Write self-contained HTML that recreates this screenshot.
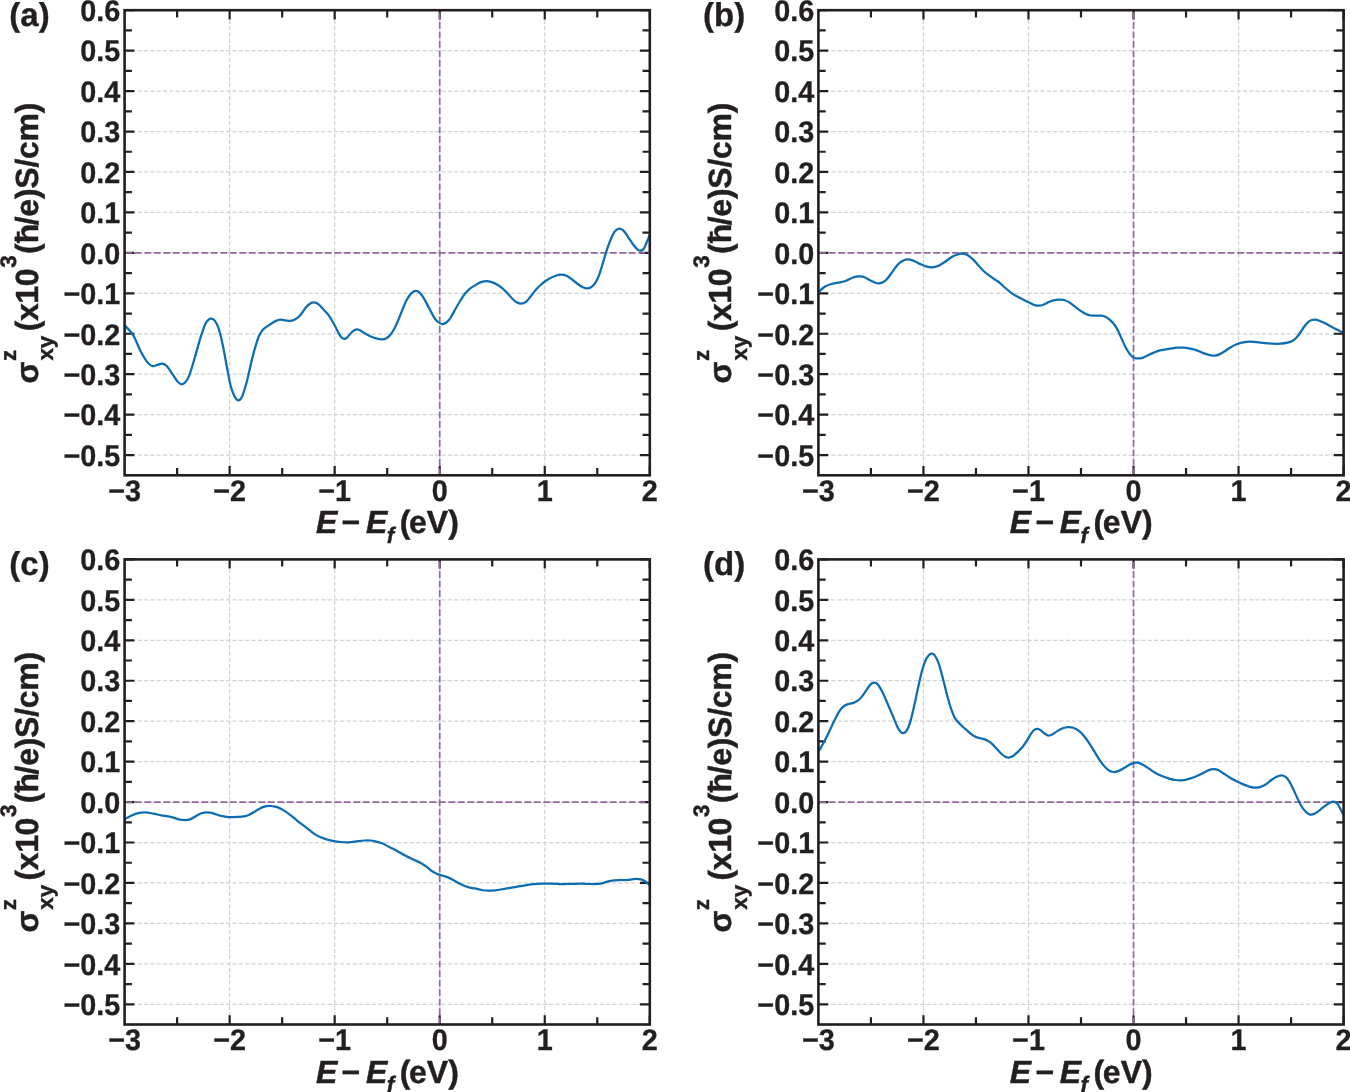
<!DOCTYPE html>
<html lang="en"><head><meta charset="utf-8"><title>Spin Hall conductivity panels</title><style>
html,body{margin:0;padding:0;background:#fff;}
body{width:1350px;height:1092px;overflow:hidden;}
svg{display:block;}
text{font-family:"Liberation Sans",Arial,Helvetica,sans-serif;font-weight:700;fill:#231f20;text-rendering:geometricPrecision;}
.tk text{font-size:28.8px;stroke:#231f20;stroke-width:0.3px;}
.lab{font-size:32px;stroke:#231f20;stroke-width:0.45px;}
.lab .it{font-style:italic;}
.lab .sub{font-size:22.4px;}
.pl{font-size:33px;stroke:#231f20;stroke-width:0.35px;}
</style></head><body>
<svg width="1350" height="1092" viewBox="0 0 1350 1092">
<rect width="1350" height="1092" fill="#fff"/>
<defs><clipPath id="cp0"><rect x="124.6" y="10.2" width="525.2" height="465.1"/></clipPath><clipPath id="cp1"><rect x="818.4" y="10.2" width="525.2" height="465.1"/></clipPath><clipPath id="cp2"><rect x="124.6" y="559.4" width="525.2" height="465.1"/></clipPath><clipPath id="cp3"><rect x="818.4" y="559.4" width="525.2" height="465.1"/></clipPath></defs>
<g>
<g fill="none" stroke="#d1d3d4" stroke-width="1.25" stroke-dasharray="4.2 2.13"><path d="M229.64 475.3V10.2M334.68 475.3V10.2M439.72 475.3V10.2M544.76 475.3V10.2" stroke-dashoffset="-1.9"/><path d="M124.6 455.08H649.8M124.6 414.63H649.8M124.6 374.19H649.8M124.6 333.75H649.8M124.6 293.3H649.8M124.6 252.86H649.8M124.6 212.42H649.8M124.6 171.97H649.8M124.6 131.53H649.8M124.6 91.09H649.8M124.6 50.64H649.8" stroke-dashoffset="-0.3"/></g>
<path d="M124.6 455.08h9.8M649.8 455.08h-9.8M124.6 414.63h9.8M649.8 414.63h-9.8M124.6 374.19h9.8M649.8 374.19h-9.8M124.6 333.75h9.8M649.8 333.75h-9.8M124.6 293.3h9.8M649.8 293.3h-9.8M124.6 252.86h9.8M649.8 252.86h-9.8M124.6 212.42h9.8M649.8 212.42h-9.8M124.6 171.97h9.8M649.8 171.97h-9.8M124.6 131.53h9.8M649.8 131.53h-9.8M124.6 91.09h9.8M649.8 91.09h-9.8M124.6 50.64h9.8M649.8 50.64h-9.8M124.6 10.2h9.8M649.8 10.2h-9.8M124.6 434.86h7.3M649.8 434.86h-7.3M124.6 394.41h7.3M649.8 394.41h-7.3M124.6 353.97h7.3M649.8 353.97h-7.3M124.6 313.53h7.3M649.8 313.53h-7.3M124.6 273.08h7.3M649.8 273.08h-7.3M124.6 232.64h7.3M649.8 232.64h-7.3M124.6 192.2h7.3M649.8 192.2h-7.3M124.6 151.75h7.3M649.8 151.75h-7.3M124.6 111.31h7.3M649.8 111.31h-7.3M124.6 70.87h7.3M649.8 70.87h-7.3M124.6 30.42h7.3M649.8 30.42h-7.3M177.12 475.3v-7.2M177.12 10.2v7.2M229.64 475.3v-9.2M229.64 10.2v9.2M282.16 475.3v-7.2M282.16 10.2v7.2M334.68 475.3v-9.2M334.68 10.2v9.2M387.2 475.3v-7.2M387.2 10.2v7.2M439.72 475.3v-9.2M439.72 10.2v9.2M492.24 475.3v-7.2M492.24 10.2v7.2M544.76 475.3v-9.2M544.76 10.2v9.2M597.28 475.3v-7.2M597.28 10.2v7.2M649.8 475.3v-9.2M649.8 10.2v9.2" fill="none" stroke="#231f20" stroke-width="2.2"/>
<g fill="none" stroke="#96699d" stroke-width="1.7" stroke-dasharray="6.8 2.7"><path d="M124.6 252.86H649.8" stroke-dashoffset="-0.8"/><path d="M439.72 475.3V10.2"/></g>
<path d="M124.7 325.3C126.13 326.97 130.75 331.18 133.3 335.3C135.85 339.42 137.77 345.67 140 350C142.23 354.33 144.7 358.63 146.7 361.3C148.7 363.97 150.23 365.4 152 366C153.77 366.6 155.63 365.28 157.3 364.9C158.97 364.52 160.43 363.52 162 363.7C163.57 363.88 164.82 364.07 166.7 366C168.58 367.93 171.53 372.75 173.3 375.3C175.07 377.85 175.97 379.8 177.3 381.3C178.63 382.8 179.97 384.13 181.3 384.3C182.63 384.47 183.97 383.8 185.3 382.3C186.63 380.8 187.73 379.35 189.3 375.3C190.87 371.25 192.92 364 194.7 358C196.48 352 198.23 344.97 200 339.3C201.77 333.63 203.85 327.28 205.3 324C206.75 320.72 207.7 320.48 208.7 319.6C209.7 318.72 210.3 318.52 211.3 318.7C212.3 318.88 213.47 319.03 214.7 320.7C215.93 322.37 217.37 324.7 218.7 328.7C220.03 332.7 221.37 338.48 222.7 344.7C224.03 350.92 225.37 359.12 226.7 366C228.03 372.88 229.37 380.88 230.7 386C232.03 391.12 233.42 394.32 234.7 396.7C235.98 399.08 237.18 400.3 238.4 400.3C239.62 400.3 240.62 399.75 242 396.7C243.38 393.65 245.03 388.23 246.7 382C248.37 375.77 250.45 365.52 252 359.3C253.55 353.08 254.78 348.7 256 344.7C257.22 340.7 258.08 337.87 259.3 335.3C260.52 332.73 261.4 331.18 263.3 329.3C265.2 327.42 268.58 325.4 270.7 324C272.82 322.6 274.33 321.62 276 320.9C277.67 320.18 279.15 319.8 280.7 319.7C282.25 319.6 283.75 320.1 285.3 320.3C286.85 320.5 288.33 321.07 290 320.9C291.67 320.73 293.52 320.33 295.3 319.3C297.08 318.27 298.92 316.7 300.7 314.7C302.48 312.7 304.45 309.13 306 307.3C307.55 305.47 308.67 304.52 310 303.7C311.33 302.88 312.55 302.3 314 302.4C315.45 302.5 317.15 303.15 318.7 304.3C320.25 305.45 321.63 307.47 323.3 309.3C324.97 311.13 326.92 312.85 328.7 315.3C330.48 317.75 332.45 321.22 334 324C335.55 326.78 336.78 329.78 338 332C339.22 334.22 340.23 336.15 341.3 337.3C342.37 338.45 343.4 338.9 344.4 338.9C345.4 338.9 346.15 338.33 347.3 337.3C348.45 336.27 350.07 333.92 351.3 332.7C352.53 331.48 353.7 330.57 354.7 330C355.7 329.43 356.3 329.18 357.3 329.3C358.3 329.42 359.25 329.92 360.7 330.7C362.15 331.48 364 332.9 366 334C368 335.1 370.7 336.48 372.7 337.3C374.7 338.12 376.45 338.57 378 338.9C379.55 339.23 380.67 339.38 382 339.3C383.33 339.22 384.67 339.07 386 338.4C387.33 337.73 388.67 336.82 390 335.3C391.33 333.78 392.67 331.73 394 329.3C395.33 326.87 396.67 323.8 398 320.7C399.33 317.6 400.67 313.93 402 310.7C403.33 307.47 404.67 303.97 406 301.3C407.33 298.63 408.78 296.3 410 294.7C411.22 293.1 412.3 292.33 413.3 291.7C414.3 291.07 415 290.8 416 290.9C417 291 418.08 291.23 419.3 292.3C420.52 293.37 421.73 294.8 423.3 297.3C424.87 299.8 426.92 303.97 428.7 307.3C430.48 310.63 432.45 314.85 434 317.3C435.55 319.75 436.67 320.88 438 322C439.33 323.12 440.67 323.88 442 324C443.33 324.12 444.67 323.58 446 322.7C447.33 321.82 448.45 320.93 450 318.7C451.55 316.47 453.52 312.42 455.3 309.3C457.08 306.18 459.13 302.55 460.7 300C462.27 297.45 463.15 295.88 464.7 294C466.25 292.12 468.28 290.15 470 288.7C471.72 287.25 473.28 286.35 475 285.3C476.72 284.25 478.3 283.1 480.3 282.4C482.3 281.7 484.77 281.02 487 281.1C489.23 281.18 491.48 281.97 493.7 282.9C495.92 283.83 498.08 285.07 500.3 286.7C502.52 288.33 505 290.7 507 292.7C509 294.7 510.63 297.08 512.3 298.7C513.97 300.32 515.43 301.58 517 302.4C518.57 303.22 520.15 303.73 521.7 303.6C523.25 303.47 524.75 302.87 526.3 301.6C527.85 300.33 529.33 298.05 531 296C532.67 293.95 534.52 291.3 536.3 289.3C538.08 287.3 539.7 285.67 541.7 284C543.7 282.33 546.08 280.63 548.3 279.3C550.52 277.97 552.88 276.77 555 276C557.12 275.23 559 274.7 561 274.7C563 274.7 565.12 275.17 567 276C568.88 276.83 570.52 278.37 572.3 279.7C574.08 281.03 575.92 282.73 577.7 284C579.48 285.27 581.45 286.57 583 287.3C584.55 288.03 585.67 288.4 587 288.4C588.33 288.4 589.67 288.15 591 287.3C592.33 286.45 593.67 285.3 595 283.3C596.33 281.3 597.67 278.73 599 275.3C600.33 271.87 601.67 267.03 603 262.7C604.33 258.37 605.67 253.3 607 249.3C608.33 245.3 609.67 241.7 611 238.7C612.33 235.7 613.55 232.97 615 231.3C616.45 229.63 618.25 228.77 619.7 228.7C621.15 228.63 622.27 229.47 623.7 230.9C625.13 232.33 626.63 234.9 628.3 237.3C629.97 239.7 632.13 243.25 633.7 245.3C635.27 247.35 636.53 248.7 637.7 249.6C638.87 250.5 639.7 250.85 640.7 250.7C641.7 250.55 642.77 249.93 643.7 248.7C644.63 247.47 645.32 245.53 646.3 243.3C647.28 241.07 649.05 236.63 649.6 235.3" fill="none" stroke="#0c6db3" stroke-width="2.25" stroke-linejoin="round" stroke-linecap="butt" clip-path="url(#cp0)"/>
<rect x="124.6" y="10.2" width="525.2" height="465.1" fill="none" stroke="#231f20" stroke-width="2.6"/>
<g class="tk" text-anchor="end">
<text transform="translate(120.4 20.95) scale(1 1.035)">0.6</text>
<text transform="translate(120.4 61.39) scale(1 1.035)">0.5</text>
<text transform="translate(120.4 101.84) scale(1 1.035)">0.4</text>
<text transform="translate(120.4 142.28) scale(1 1.035)">0.3</text>
<text transform="translate(120.4 182.72) scale(1 1.035)">0.2</text>
<text transform="translate(120.4 223.17) scale(1 1.035)">0.1</text>
<text transform="translate(120.4 263.61) scale(1 1.035)">0.0</text>
<text transform="translate(120.4 304.05) scale(1 1.035)">−0.1</text>
<text transform="translate(120.4 344.5) scale(1 1.035)">−0.2</text>
<text transform="translate(120.4 384.94) scale(1 1.035)">−0.3</text>
<text transform="translate(120.4 425.38) scale(1 1.035)">−0.4</text>
<text transform="translate(120.4 465.83) scale(1 1.035)">−0.5</text>
</g>
<g class="tk" text-anchor="middle">
<text transform="translate(124.6 500.8) scale(1 1.035)">−3</text>
<text transform="translate(229.64 500.8) scale(1 1.035)">−2</text>
<text transform="translate(334.68 500.8) scale(1 1.035)">−1</text>
<text transform="translate(439.72 500.8) scale(1 1.035)">0</text>
<text transform="translate(544.76 500.8) scale(1 1.035)">1</text>
<text transform="translate(649.8 500.8) scale(1 1.035)">2</text>
</g>
<text class="lab" y="533.4"><tspan class="it" x="315.9">E</tspan><tspan x="341.6">−</tspan><tspan class="it" x="365.9">E</tspan><tspan class="it sub" x="386.8" dy="9.3">f</tspan><tspan x="399.7" dy="-9.3">(</tspan><tspan x="409.05">eV)</tspan></text>
<g transform="translate(37.5 0) rotate(-90)"><text class="lab" y="0"><tspan x="-383.4">σ</tspan><tspan class="sub" x="-361" dy="-21.9">z</tspan><tspan class="sub" x="-360.6" dy="37.2">xy</tspan><tspan x="-331.3" dy="-15.3" letter-spacing="-0.4">(x10</tspan><tspan class="sub" x="-267.8" dy="-21.9">3</tspan><tspan x="-254" dy="21.9">(ħ</tspan><tspan x="-225.3" letter-spacing="-0.25">/e)S/cm)</tspan></text></g>
<text class="pl" x="9.3" y="25.5">(a)</text>
</g>
<g>
<g fill="none" stroke="#d1d3d4" stroke-width="1.25" stroke-dasharray="4.2 2.13"><path d="M923.44 475.3V10.2M1028.48 475.3V10.2M1133.52 475.3V10.2M1238.56 475.3V10.2" stroke-dashoffset="-1.9"/><path d="M818.4 455.08H1343.6M818.4 414.63H1343.6M818.4 374.19H1343.6M818.4 333.75H1343.6M818.4 293.3H1343.6M818.4 252.86H1343.6M818.4 212.42H1343.6M818.4 171.97H1343.6M818.4 131.53H1343.6M818.4 91.09H1343.6M818.4 50.64H1343.6" stroke-dashoffset="-0.3"/></g>
<path d="M818.4 455.08h9.8M1343.6 455.08h-9.8M818.4 414.63h9.8M1343.6 414.63h-9.8M818.4 374.19h9.8M1343.6 374.19h-9.8M818.4 333.75h9.8M1343.6 333.75h-9.8M818.4 293.3h9.8M1343.6 293.3h-9.8M818.4 252.86h9.8M1343.6 252.86h-9.8M818.4 212.42h9.8M1343.6 212.42h-9.8M818.4 171.97h9.8M1343.6 171.97h-9.8M818.4 131.53h9.8M1343.6 131.53h-9.8M818.4 91.09h9.8M1343.6 91.09h-9.8M818.4 50.64h9.8M1343.6 50.64h-9.8M818.4 10.2h9.8M1343.6 10.2h-9.8M818.4 434.86h7.3M1343.6 434.86h-7.3M818.4 394.41h7.3M1343.6 394.41h-7.3M818.4 353.97h7.3M1343.6 353.97h-7.3M818.4 313.53h7.3M1343.6 313.53h-7.3M818.4 273.08h7.3M1343.6 273.08h-7.3M818.4 232.64h7.3M1343.6 232.64h-7.3M818.4 192.2h7.3M1343.6 192.2h-7.3M818.4 151.75h7.3M1343.6 151.75h-7.3M818.4 111.31h7.3M1343.6 111.31h-7.3M818.4 70.87h7.3M1343.6 70.87h-7.3M818.4 30.42h7.3M1343.6 30.42h-7.3M870.92 475.3v-7.2M870.92 10.2v7.2M923.44 475.3v-9.2M923.44 10.2v9.2M975.96 475.3v-7.2M975.96 10.2v7.2M1028.48 475.3v-9.2M1028.48 10.2v9.2M1081 475.3v-7.2M1081 10.2v7.2M1133.52 475.3v-9.2M1133.52 10.2v9.2M1186.04 475.3v-7.2M1186.04 10.2v7.2M1238.56 475.3v-9.2M1238.56 10.2v9.2M1291.08 475.3v-7.2M1291.08 10.2v7.2M1343.6 475.3v-9.2M1343.6 10.2v9.2" fill="none" stroke="#231f20" stroke-width="2.2"/>
<g fill="none" stroke="#96699d" stroke-width="1.7" stroke-dasharray="6.8 2.7"><path d="M818.4 252.86H1343.6" stroke-dashoffset="-0.8"/><path d="M1133.52 475.3V10.2"/></g>
<path d="M818.7 292C819.7 291.12 822.6 288.03 824.7 286.7C826.8 285.37 829.08 284.67 831.3 284C833.52 283.33 835.77 283.15 838 282.7C840.23 282.25 842.48 282.03 844.7 281.3C846.92 280.57 849.42 279.07 851.3 278.3C853.18 277.53 854.55 277.03 856 276.7C857.45 276.37 858.55 276.2 860 276.3C861.45 276.4 863.03 276.63 864.7 277.3C866.37 277.97 868.23 279.4 870 280.3C871.77 281.2 873.75 282.2 875.3 282.7C876.85 283.2 877.97 283.42 879.3 283.3C880.63 283.18 881.97 282.77 883.3 282C884.63 281.23 885.73 280.48 887.3 278.7C888.87 276.92 890.92 273.68 892.7 271.3C894.48 268.92 896.23 266.22 898 264.4C899.77 262.58 901.63 261.25 903.3 260.4C904.97 259.55 906.43 259.3 908 259.3C909.57 259.3 910.82 259.68 912.7 260.4C914.58 261.12 917.08 262.62 919.3 263.6C921.52 264.58 923.88 265.68 926 266.3C928.12 266.92 930 267.35 932 267.3C934 267.25 935.88 266.88 938 266C940.12 265.12 942.48 263.45 944.7 262C946.92 260.55 949.3 258.52 951.3 257.3C953.3 256.08 954.92 255.3 956.7 254.7C958.48 254.1 960.23 253.63 962 253.7C963.77 253.77 965.52 254.2 967.3 255.1C969.08 256 970.92 257.47 972.7 259.1C974.48 260.73 976.23 262.97 978 264.9C979.77 266.83 981.18 268.73 983.3 270.7C985.42 272.67 988.13 274.82 990.7 276.7C993.27 278.58 996.27 280.12 998.7 282C1001.13 283.88 1003.08 286.12 1005.3 288C1007.52 289.88 1009.77 291.75 1012 293.3C1014.23 294.85 1016.48 296.07 1018.7 297.3C1020.92 298.53 1023.3 299.7 1025.3 300.7C1027.3 301.7 1029.13 302.57 1030.7 303.3C1032.27 304.03 1033.37 304.7 1034.7 305.1C1036.03 305.5 1037.27 305.77 1038.7 305.7C1040.13 305.63 1041.75 305.25 1043.3 304.7C1044.85 304.15 1046.33 303.12 1048 302.4C1049.67 301.68 1051.52 300.87 1053.3 300.4C1055.08 299.93 1056.92 299.67 1058.7 299.6C1060.48 299.53 1062.23 299.53 1064 300C1065.77 300.47 1067.52 301.33 1069.3 302.4C1071.08 303.47 1072.92 305.07 1074.7 306.4C1076.48 307.73 1078.23 309.18 1080 310.4C1081.77 311.62 1083.52 312.85 1085.3 313.7C1087.08 314.55 1088.92 315.17 1090.7 315.5C1092.48 315.83 1094.23 315.67 1096 315.7C1097.77 315.73 1099.75 315.53 1101.3 315.7C1102.85 315.87 1103.97 316.1 1105.3 316.7C1106.63 317.3 1107.97 318.2 1109.3 319.3C1110.63 320.4 1111.97 321.63 1113.3 323.3C1114.63 324.97 1115.97 326.85 1117.3 329.3C1118.63 331.75 1119.97 335.1 1121.3 338C1122.63 340.9 1123.97 344.15 1125.3 346.7C1126.63 349.25 1128.07 351.6 1129.3 353.3C1130.53 355 1131.58 356.07 1132.7 356.9C1133.82 357.73 1134.9 358.05 1136 358.3C1137.1 358.55 1138.08 358.52 1139.3 358.4C1140.52 358.28 1141.85 358.12 1143.3 357.6C1144.75 357.08 1146.33 356.08 1148 355.3C1149.67 354.52 1151.3 353.72 1153.3 352.9C1155.3 352.08 1157.22 351.1 1160 350.4C1162.78 349.7 1167.22 349.15 1170 348.7C1172.78 348.25 1174.48 347.87 1176.7 347.7C1178.92 347.53 1181.08 347.53 1183.3 347.7C1185.52 347.87 1187.77 348.25 1190 348.7C1192.23 349.15 1194.48 349.67 1196.7 350.4C1198.92 351.13 1201.08 352.3 1203.3 353.1C1205.52 353.9 1208.1 354.77 1210 355.2C1211.9 355.63 1213.15 355.83 1214.7 355.7C1216.25 355.57 1217.63 355.13 1219.3 354.4C1220.97 353.67 1222.92 352.42 1224.7 351.3C1226.48 350.18 1228 348.87 1230 347.7C1232 346.53 1234.48 345.18 1236.7 344.3C1238.92 343.42 1241.08 342.83 1243.3 342.4C1245.52 341.97 1247.77 341.75 1250 341.7C1252.23 341.65 1254.25 341.85 1256.7 342.1C1259.15 342.35 1262.03 342.93 1264.7 343.2C1267.37 343.47 1270.03 343.62 1272.7 343.7C1275.37 343.78 1278.27 343.87 1280.7 343.7C1283.13 343.53 1285.3 343.2 1287.3 342.7C1289.3 342.2 1291.13 341.6 1292.7 340.7C1294.27 339.8 1295.37 338.75 1296.7 337.3C1298.03 335.85 1299.37 333.88 1300.7 332C1302.03 330.12 1303.37 327.73 1304.7 326C1306.03 324.27 1307.48 322.6 1308.7 321.6C1309.92 320.6 1310.9 320.33 1312 320C1313.1 319.67 1314.08 319.48 1315.3 319.6C1316.52 319.72 1317.73 320.12 1319.3 320.7C1320.87 321.28 1322.92 322.22 1324.7 323.1C1326.48 323.98 1328 324.92 1330 326C1332 327.08 1334.47 328.43 1336.7 329.6C1338.93 330.77 1342.28 332.43 1343.4 333" fill="none" stroke="#0c6db3" stroke-width="2.25" stroke-linejoin="round" stroke-linecap="butt" clip-path="url(#cp1)"/>
<rect x="818.4" y="10.2" width="525.2" height="465.1" fill="none" stroke="#231f20" stroke-width="2.6"/>
<g class="tk" text-anchor="end">
<text transform="translate(814.2 20.95) scale(1 1.035)">0.6</text>
<text transform="translate(814.2 61.39) scale(1 1.035)">0.5</text>
<text transform="translate(814.2 101.84) scale(1 1.035)">0.4</text>
<text transform="translate(814.2 142.28) scale(1 1.035)">0.3</text>
<text transform="translate(814.2 182.72) scale(1 1.035)">0.2</text>
<text transform="translate(814.2 223.17) scale(1 1.035)">0.1</text>
<text transform="translate(814.2 263.61) scale(1 1.035)">0.0</text>
<text transform="translate(814.2 304.05) scale(1 1.035)">−0.1</text>
<text transform="translate(814.2 344.5) scale(1 1.035)">−0.2</text>
<text transform="translate(814.2 384.94) scale(1 1.035)">−0.3</text>
<text transform="translate(814.2 425.38) scale(1 1.035)">−0.4</text>
<text transform="translate(814.2 465.83) scale(1 1.035)">−0.5</text>
</g>
<g class="tk" text-anchor="middle">
<text transform="translate(818.4 500.8) scale(1 1.035)">−3</text>
<text transform="translate(923.44 500.8) scale(1 1.035)">−2</text>
<text transform="translate(1028.48 500.8) scale(1 1.035)">−1</text>
<text transform="translate(1133.52 500.8) scale(1 1.035)">0</text>
<text transform="translate(1238.56 500.8) scale(1 1.035)">1</text>
<text transform="translate(1343.6 500.8) scale(1 1.035)">2</text>
</g>
<text class="lab" y="533.4"><tspan class="it" x="1009.7">E</tspan><tspan x="1035.4">−</tspan><tspan class="it" x="1059.7">E</tspan><tspan class="it sub" x="1080.6" dy="9.3">f</tspan><tspan x="1093.5" dy="-9.3">(</tspan><tspan x="1102.85">eV)</tspan></text>
<g transform="translate(731.3 0) rotate(-90)"><text class="lab" y="0"><tspan x="-383.4">σ</tspan><tspan class="sub" x="-361" dy="-21.9">z</tspan><tspan class="sub" x="-360.6" dy="37.2">xy</tspan><tspan x="-331.3" dy="-15.3" letter-spacing="-0.4">(x10</tspan><tspan class="sub" x="-267.8" dy="-21.9">3</tspan><tspan x="-254" dy="21.9">(ħ</tspan><tspan x="-225.3" letter-spacing="-0.25">/e)S/cm)</tspan></text></g>
<text class="pl" x="703.1" y="25.5">(b)</text>
</g>
<g>
<g fill="none" stroke="#d1d3d4" stroke-width="1.25" stroke-dasharray="4.2 2.13"><path d="M229.64 1024.5V559.4M334.68 1024.5V559.4M439.72 1024.5V559.4M544.76 1024.5V559.4" stroke-dashoffset="-1.9"/><path d="M124.6 1004.28H649.8M124.6 963.83H649.8M124.6 923.39H649.8M124.6 882.95H649.8M124.6 842.5H649.8M124.6 802.06H649.8M124.6 761.62H649.8M124.6 721.17H649.8M124.6 680.73H649.8M124.6 640.29H649.8M124.6 599.84H649.8" stroke-dashoffset="-0.3"/></g>
<path d="M124.6 1004.28h9.8M649.8 1004.28h-9.8M124.6 963.83h9.8M649.8 963.83h-9.8M124.6 923.39h9.8M649.8 923.39h-9.8M124.6 882.95h9.8M649.8 882.95h-9.8M124.6 842.5h9.8M649.8 842.5h-9.8M124.6 802.06h9.8M649.8 802.06h-9.8M124.6 761.62h9.8M649.8 761.62h-9.8M124.6 721.17h9.8M649.8 721.17h-9.8M124.6 680.73h9.8M649.8 680.73h-9.8M124.6 640.29h9.8M649.8 640.29h-9.8M124.6 599.84h9.8M649.8 599.84h-9.8M124.6 559.4h9.8M649.8 559.4h-9.8M124.6 984.06h7.3M649.8 984.06h-7.3M124.6 943.61h7.3M649.8 943.61h-7.3M124.6 903.17h7.3M649.8 903.17h-7.3M124.6 862.73h7.3M649.8 862.73h-7.3M124.6 822.28h7.3M649.8 822.28h-7.3M124.6 781.84h7.3M649.8 781.84h-7.3M124.6 741.4h7.3M649.8 741.4h-7.3M124.6 700.95h7.3M649.8 700.95h-7.3M124.6 660.51h7.3M649.8 660.51h-7.3M124.6 620.07h7.3M649.8 620.07h-7.3M124.6 579.62h7.3M649.8 579.62h-7.3M177.12 1024.5v-7.2M177.12 559.4v7.2M229.64 1024.5v-9.2M229.64 559.4v9.2M282.16 1024.5v-7.2M282.16 559.4v7.2M334.68 1024.5v-9.2M334.68 559.4v9.2M387.2 1024.5v-7.2M387.2 559.4v7.2M439.72 1024.5v-9.2M439.72 559.4v9.2M492.24 1024.5v-7.2M492.24 559.4v7.2M544.76 1024.5v-9.2M544.76 559.4v9.2M597.28 1024.5v-7.2M597.28 559.4v7.2M649.8 1024.5v-9.2M649.8 559.4v9.2" fill="none" stroke="#231f20" stroke-width="2.2"/>
<g fill="none" stroke="#96699d" stroke-width="1.7" stroke-dasharray="6.8 2.7"><path d="M124.6 802.06H649.8" stroke-dashoffset="-0.8"/><path d="M439.72 1024.5V559.4"/></g>
<path d="M124.7 819.3C125.7 818.75 128.6 817 130.7 816C132.8 815 134.87 813.9 137.3 813.3C139.73 812.7 142.63 812.33 145.3 812.4C147.97 812.47 150.63 813.22 153.3 813.7C155.97 814.18 158.4 814.77 161.3 815.3C164.2 815.83 167.8 816.23 170.7 816.9C173.6 817.57 176.27 818.77 178.7 819.3C181.13 819.83 183.3 820.13 185.3 820.1C187.3 820.07 188.92 819.78 190.7 819.1C192.48 818.42 194.23 816.97 196 816C197.77 815.03 199.42 813.9 201.3 813.3C203.18 812.7 205.3 812.4 207.3 812.4C209.3 812.4 211.18 812.75 213.3 813.3C215.42 813.85 217.77 815.1 220 815.7C222.23 816.3 224.92 816.65 226.7 816.9C228.48 817.15 228.93 817.2 230.7 817.2C232.47 817.2 235.08 817.05 237.3 816.9C239.52 816.75 242 816.67 244 816.3C246 815.93 247.52 815.48 249.3 814.7C251.08 813.92 252.92 812.65 254.7 811.6C256.48 810.55 258.23 809.27 260 808.4C261.77 807.53 263.63 806.8 265.3 806.4C266.97 806 268.33 805.95 270 806C271.67 806.05 273.42 806.22 275.3 806.7C277.18 807.18 279.4 807.95 281.3 808.9C283.2 809.85 284.7 811 286.7 812.4C288.7 813.8 291.42 815.82 293.3 817.3C295.18 818.78 295.88 819.63 298 821.3C300.12 822.97 303.33 825.25 306 827.3C308.67 829.35 311.55 831.93 314 833.6C316.45 835.27 318.48 836.3 320.7 837.3C322.92 838.3 325.08 838.97 327.3 839.6C329.52 840.23 331.77 840.7 334 841.1C336.23 841.5 338.7 841.78 340.7 842C342.7 842.22 344.23 842.38 346 842.4C347.77 842.42 349.3 842.3 351.3 842.1C353.3 841.9 355.77 841.47 358 841.2C360.23 840.93 362.7 840.62 364.7 840.5C366.7 840.38 368.23 840.37 370 840.5C371.77 840.63 373.3 840.83 375.3 841.3C377.3 841.77 379.77 842.4 382 843.3C384.23 844.2 386.25 845.47 388.7 846.7C391.15 847.93 394.03 849.27 396.7 850.7C399.37 852.13 402.03 853.87 404.7 855.3C407.37 856.73 410.03 858.03 412.7 859.3C415.37 860.57 418.48 861.73 420.7 862.9C422.92 864.07 424.23 865 426 866.3C427.77 867.6 429.52 869.47 431.3 870.7C433.08 871.93 434.92 872.9 436.7 873.7C438.48 874.5 440.23 874.93 442 875.5C443.77 876.07 445.52 876.4 447.3 877.1C449.08 877.8 450.7 878.62 452.7 879.7C454.7 880.78 457.3 882.55 459.3 883.6C461.3 884.65 462.92 885.32 464.7 886C466.48 886.68 468.28 887.3 470 887.7C471.72 888.1 473.05 888.02 475 888.4C476.95 888.78 479.48 889.62 481.7 890C483.92 890.38 486.08 890.65 488.3 890.7C490.52 890.75 492.33 890.6 495 890.3C497.67 890 500.97 889.43 504.3 888.9C507.63 888.37 511.43 887.7 515 887.1C518.57 886.5 522.58 885.8 525.7 885.3C528.82 884.8 531.03 884.38 533.7 884.1C536.37 883.82 538.6 883.68 541.7 883.6C544.8 883.52 548.97 883.52 552.3 883.6C555.63 883.68 558.58 884.05 561.7 884.1C564.82 884.15 567.67 883.98 571 883.9C574.33 883.82 578.58 883.58 581.7 883.6C584.82 883.62 587.03 883.95 589.7 884C592.37 884.05 595.48 884.05 597.7 883.9C599.92 883.75 601.23 883.53 603 883.1C604.77 882.67 606.52 881.77 608.3 881.3C610.08 880.83 611.7 880.52 613.7 880.3C615.7 880.08 618.08 880.05 620.3 880C622.52 879.95 625 880.12 627 880C629 879.88 630.63 879.48 632.3 879.3C633.97 879.12 635.55 878.9 637 878.9C638.45 878.9 639.67 878.9 641 879.3C642.33 879.7 643.57 880.35 645 881.3C646.43 882.25 648.83 884.38 649.6 885" fill="none" stroke="#0c6db3" stroke-width="2.25" stroke-linejoin="round" stroke-linecap="butt" clip-path="url(#cp2)"/>
<rect x="124.6" y="559.4" width="525.2" height="465.1" fill="none" stroke="#231f20" stroke-width="2.6"/>
<g class="tk" text-anchor="end">
<text transform="translate(120.4 570.15) scale(1 1.035)">0.6</text>
<text transform="translate(120.4 610.59) scale(1 1.035)">0.5</text>
<text transform="translate(120.4 651.04) scale(1 1.035)">0.4</text>
<text transform="translate(120.4 691.48) scale(1 1.035)">0.3</text>
<text transform="translate(120.4 731.92) scale(1 1.035)">0.2</text>
<text transform="translate(120.4 772.37) scale(1 1.035)">0.1</text>
<text transform="translate(120.4 812.81) scale(1 1.035)">0.0</text>
<text transform="translate(120.4 853.25) scale(1 1.035)">−0.1</text>
<text transform="translate(120.4 893.7) scale(1 1.035)">−0.2</text>
<text transform="translate(120.4 934.14) scale(1 1.035)">−0.3</text>
<text transform="translate(120.4 974.58) scale(1 1.035)">−0.4</text>
<text transform="translate(120.4 1015.03) scale(1 1.035)">−0.5</text>
</g>
<g class="tk" text-anchor="middle">
<text transform="translate(124.6 1050) scale(1 1.035)">−3</text>
<text transform="translate(229.64 1050) scale(1 1.035)">−2</text>
<text transform="translate(334.68 1050) scale(1 1.035)">−1</text>
<text transform="translate(439.72 1050) scale(1 1.035)">0</text>
<text transform="translate(544.76 1050) scale(1 1.035)">1</text>
<text transform="translate(649.8 1050) scale(1 1.035)">2</text>
</g>
<text class="lab" y="1082.6"><tspan class="it" x="315.9">E</tspan><tspan x="341.6">−</tspan><tspan class="it" x="365.9">E</tspan><tspan class="it sub" x="386.8" dy="9.3">f</tspan><tspan x="399.7" dy="-9.3">(</tspan><tspan x="409.05">eV)</tspan></text>
<g transform="translate(37.5 0) rotate(-90)"><text class="lab" y="0"><tspan x="-932.6">σ</tspan><tspan class="sub" x="-910.2" dy="-21.9">z</tspan><tspan class="sub" x="-909.8" dy="37.2">xy</tspan><tspan x="-880.5" dy="-15.3" letter-spacing="-0.4">(x10</tspan><tspan class="sub" x="-817" dy="-21.9">3</tspan><tspan x="-803.2" dy="21.9">(ħ</tspan><tspan x="-774.5" letter-spacing="-0.25">/e)S/cm)</tspan></text></g>
<text class="pl" x="9.3" y="574.7">(c)</text>
</g>
<g>
<g fill="none" stroke="#d1d3d4" stroke-width="1.25" stroke-dasharray="4.2 2.13"><path d="M923.44 1024.5V559.4M1028.48 1024.5V559.4M1133.52 1024.5V559.4M1238.56 1024.5V559.4" stroke-dashoffset="-1.9"/><path d="M818.4 1004.28H1343.6M818.4 963.83H1343.6M818.4 923.39H1343.6M818.4 882.95H1343.6M818.4 842.5H1343.6M818.4 802.06H1343.6M818.4 761.62H1343.6M818.4 721.17H1343.6M818.4 680.73H1343.6M818.4 640.29H1343.6M818.4 599.84H1343.6" stroke-dashoffset="-0.3"/></g>
<path d="M818.4 1004.28h9.8M1343.6 1004.28h-9.8M818.4 963.83h9.8M1343.6 963.83h-9.8M818.4 923.39h9.8M1343.6 923.39h-9.8M818.4 882.95h9.8M1343.6 882.95h-9.8M818.4 842.5h9.8M1343.6 842.5h-9.8M818.4 802.06h9.8M1343.6 802.06h-9.8M818.4 761.62h9.8M1343.6 761.62h-9.8M818.4 721.17h9.8M1343.6 721.17h-9.8M818.4 680.73h9.8M1343.6 680.73h-9.8M818.4 640.29h9.8M1343.6 640.29h-9.8M818.4 599.84h9.8M1343.6 599.84h-9.8M818.4 559.4h9.8M1343.6 559.4h-9.8M818.4 984.06h7.3M1343.6 984.06h-7.3M818.4 943.61h7.3M1343.6 943.61h-7.3M818.4 903.17h7.3M1343.6 903.17h-7.3M818.4 862.73h7.3M1343.6 862.73h-7.3M818.4 822.28h7.3M1343.6 822.28h-7.3M818.4 781.84h7.3M1343.6 781.84h-7.3M818.4 741.4h7.3M1343.6 741.4h-7.3M818.4 700.95h7.3M1343.6 700.95h-7.3M818.4 660.51h7.3M1343.6 660.51h-7.3M818.4 620.07h7.3M1343.6 620.07h-7.3M818.4 579.62h7.3M1343.6 579.62h-7.3M870.92 1024.5v-7.2M870.92 559.4v7.2M923.44 1024.5v-9.2M923.44 559.4v9.2M975.96 1024.5v-7.2M975.96 559.4v7.2M1028.48 1024.5v-9.2M1028.48 559.4v9.2M1081 1024.5v-7.2M1081 559.4v7.2M1133.52 1024.5v-9.2M1133.52 559.4v9.2M1186.04 1024.5v-7.2M1186.04 559.4v7.2M1238.56 1024.5v-9.2M1238.56 559.4v9.2M1291.08 1024.5v-7.2M1291.08 559.4v7.2M1343.6 1024.5v-9.2M1343.6 559.4v9.2" fill="none" stroke="#231f20" stroke-width="2.2"/>
<g fill="none" stroke="#96699d" stroke-width="1.7" stroke-dasharray="6.8 2.7"><path d="M818.4 802.06H1343.6" stroke-dashoffset="-0.8"/><path d="M1133.52 1024.5V559.4"/></g>
<path d="M818.7 751.3C819.47 749.97 821.63 746.4 823.3 743.3C824.97 740.2 826.92 736.37 828.7 732.7C830.48 729.03 832.23 724.87 834 721.3C835.77 717.73 837.75 713.73 839.3 711.3C840.85 708.87 841.97 707.85 843.3 706.7C844.63 705.55 845.73 705 847.3 704.4C848.87 703.8 851.13 703.62 852.7 703.1C854.27 702.58 855.37 702.15 856.7 701.3C858.03 700.45 859.37 699.43 860.7 698C862.03 696.57 863.37 694.58 864.7 692.7C866.03 690.82 867.48 688.27 868.7 686.7C869.92 685.13 871 683.97 872 683.3C873 682.63 873.7 682.47 874.7 682.7C875.7 682.93 876.78 683.27 878 684.7C879.22 686.13 880.67 688.75 882 691.3C883.33 693.85 884.67 697 886 700C887.33 703 888.67 706.18 890 709.3C891.33 712.42 892.78 715.8 894 718.7C895.22 721.6 896.18 724.48 897.3 726.7C898.42 728.92 899.7 730.93 900.7 732C901.7 733.07 902.3 733.32 903.3 733.1C904.3 732.88 905.58 732.43 906.7 730.7C907.82 728.97 908.78 726.7 910 722.7C911.22 718.7 912.67 712.48 914 706.7C915.33 700.92 916.67 694 918 688C919.33 682 920.67 675.48 922 670.7C923.33 665.92 924.78 661.97 926 659.3C927.22 656.63 928.37 655.63 929.3 654.7C930.23 653.77 930.7 653.6 931.6 653.7C932.5 653.8 933.52 653.7 934.7 655.3C935.88 656.9 937.27 659.18 938.7 663.3C940.13 667.42 941.87 674.55 943.3 680C944.73 685.45 945.97 691.12 947.3 696C948.63 700.88 949.97 705.52 951.3 709.3C952.63 713.08 953.73 716.13 955.3 718.7C956.87 721.27 958.7 722.7 960.7 724.7C962.7 726.7 965.08 728.82 967.3 730.7C969.52 732.58 972 734.78 974 736C976 737.22 977.42 737.4 979.3 738C981.18 738.6 983.4 738.82 985.3 739.6C987.2 740.38 988.92 741.3 990.7 742.7C992.48 744.1 994.23 746.17 996 748C997.77 749.83 999.75 752.25 1001.3 753.7C1002.85 755.15 1004.07 756.05 1005.3 756.7C1006.53 757.35 1007.47 757.67 1008.7 757.6C1009.93 757.53 1011.27 757.17 1012.7 756.3C1014.13 755.43 1015.63 754 1017.3 752.4C1018.97 750.8 1021.03 748.77 1022.7 746.7C1024.37 744.63 1025.87 742.23 1027.3 740C1028.73 737.77 1030.07 735.02 1031.3 733.3C1032.53 731.58 1033.65 730.43 1034.7 729.7C1035.75 728.97 1036.6 728.8 1037.6 728.9C1038.6 729 1039.52 729.5 1040.7 730.3C1041.88 731.1 1043.37 732.82 1044.7 733.7C1046.03 734.58 1047.37 735.5 1048.7 735.6C1050.03 735.7 1051.27 735.05 1052.7 734.3C1054.13 733.55 1055.63 732.1 1057.3 731.1C1058.97 730.1 1060.92 728.97 1062.7 728.3C1064.48 727.63 1066.23 727.2 1068 727.1C1069.77 727 1071.52 727.1 1073.3 727.7C1075.08 728.3 1076.92 729.32 1078.7 730.7C1080.48 732.08 1082.23 733.9 1084 736C1085.77 738.1 1087.52 740.63 1089.3 743.3C1091.08 745.97 1092.92 749.1 1094.7 752C1096.48 754.9 1098.23 758.15 1100 760.7C1101.77 763.25 1103.75 765.63 1105.3 767.3C1106.85 768.97 1107.85 769.92 1109.3 770.7C1110.75 771.48 1112.43 771.97 1114 772C1115.57 772.03 1117.03 771.57 1118.7 770.9C1120.37 770.23 1122.23 769.03 1124 768C1125.77 766.97 1127.75 765.52 1129.3 764.7C1130.85 763.88 1132.07 763.43 1133.3 763.1C1134.53 762.77 1135.47 762.62 1136.7 762.7C1137.93 762.78 1139.03 762.87 1140.7 763.6C1142.37 764.33 1144.6 765.77 1146.7 767.1C1148.8 768.43 1151.08 770.23 1153.3 771.6C1155.52 772.97 1157.22 774.08 1160 775.3C1162.78 776.52 1167.45 778.12 1170 778.9C1172.55 779.68 1173.52 779.77 1175.3 780C1177.08 780.23 1178.7 780.42 1180.7 780.3C1182.7 780.18 1185.08 779.8 1187.3 779.3C1189.52 778.8 1191.77 778.13 1194 777.3C1196.23 776.47 1198.48 775.4 1200.7 774.3C1202.92 773.2 1205.53 771.53 1207.3 770.7C1209.07 769.87 1210.07 769.57 1211.3 769.3C1212.53 769.03 1213.47 768.93 1214.7 769.1C1215.93 769.27 1217.27 769.6 1218.7 770.3C1220.13 771 1221.42 772.07 1223.3 773.3C1225.18 774.53 1227.77 776.37 1230 777.7C1232.23 779.03 1234.48 780.18 1236.7 781.3C1238.92 782.42 1241.08 783.47 1243.3 784.4C1245.52 785.33 1248 786.35 1250 786.9C1252 787.45 1253.52 787.7 1255.3 787.7C1257.08 787.7 1258.92 787.47 1260.7 786.9C1262.48 786.33 1264.23 785.45 1266 784.3C1267.77 783.15 1269.52 781.27 1271.3 780C1273.08 778.73 1275.03 777.48 1276.7 776.7C1278.37 775.92 1279.87 775.3 1281.3 775.3C1282.73 775.3 1283.97 775.7 1285.3 776.7C1286.63 777.7 1287.97 779.2 1289.3 781.3C1290.63 783.4 1291.97 786.52 1293.3 789.3C1294.63 792.08 1295.97 795.22 1297.3 798C1298.63 800.78 1299.97 803.78 1301.3 806C1302.63 808.22 1304.07 809.97 1305.3 811.3C1306.53 812.63 1307.65 813.43 1308.7 814C1309.75 814.57 1310.5 814.82 1311.6 814.7C1312.7 814.58 1313.78 814.2 1315.3 813.3C1316.82 812.4 1318.92 810.67 1320.7 809.3C1322.48 807.93 1324.45 806.2 1326 805.1C1327.55 804 1328.78 803.27 1330 802.7C1331.22 802.13 1332.18 801.67 1333.3 801.7C1334.42 801.73 1335.7 802.07 1336.7 802.9C1337.7 803.73 1338.18 804.68 1339.3 806.7C1340.42 808.72 1342.72 813.62 1343.4 815" fill="none" stroke="#0c6db3" stroke-width="2.25" stroke-linejoin="round" stroke-linecap="butt" clip-path="url(#cp3)"/>
<rect x="818.4" y="559.4" width="525.2" height="465.1" fill="none" stroke="#231f20" stroke-width="2.6"/>
<g class="tk" text-anchor="end">
<text transform="translate(814.2 570.15) scale(1 1.035)">0.6</text>
<text transform="translate(814.2 610.59) scale(1 1.035)">0.5</text>
<text transform="translate(814.2 651.04) scale(1 1.035)">0.4</text>
<text transform="translate(814.2 691.48) scale(1 1.035)">0.3</text>
<text transform="translate(814.2 731.92) scale(1 1.035)">0.2</text>
<text transform="translate(814.2 772.37) scale(1 1.035)">0.1</text>
<text transform="translate(814.2 812.81) scale(1 1.035)">0.0</text>
<text transform="translate(814.2 853.25) scale(1 1.035)">−0.1</text>
<text transform="translate(814.2 893.7) scale(1 1.035)">−0.2</text>
<text transform="translate(814.2 934.14) scale(1 1.035)">−0.3</text>
<text transform="translate(814.2 974.58) scale(1 1.035)">−0.4</text>
<text transform="translate(814.2 1015.03) scale(1 1.035)">−0.5</text>
</g>
<g class="tk" text-anchor="middle">
<text transform="translate(818.4 1050) scale(1 1.035)">−3</text>
<text transform="translate(923.44 1050) scale(1 1.035)">−2</text>
<text transform="translate(1028.48 1050) scale(1 1.035)">−1</text>
<text transform="translate(1133.52 1050) scale(1 1.035)">0</text>
<text transform="translate(1238.56 1050) scale(1 1.035)">1</text>
<text transform="translate(1343.6 1050) scale(1 1.035)">2</text>
</g>
<text class="lab" y="1082.6"><tspan class="it" x="1009.7">E</tspan><tspan x="1035.4">−</tspan><tspan class="it" x="1059.7">E</tspan><tspan class="it sub" x="1080.6" dy="9.3">f</tspan><tspan x="1093.5" dy="-9.3">(</tspan><tspan x="1102.85">eV)</tspan></text>
<g transform="translate(731.3 0) rotate(-90)"><text class="lab" y="0"><tspan x="-932.6">σ</tspan><tspan class="sub" x="-910.2" dy="-21.9">z</tspan><tspan class="sub" x="-909.8" dy="37.2">xy</tspan><tspan x="-880.5" dy="-15.3" letter-spacing="-0.4">(x10</tspan><tspan class="sub" x="-817" dy="-21.9">3</tspan><tspan x="-803.2" dy="21.9">(ħ</tspan><tspan x="-774.5" letter-spacing="-0.25">/e)S/cm)</tspan></text></g>
<text class="pl" x="703.1" y="574.7">(d)</text>
</g>
</svg></body></html>
